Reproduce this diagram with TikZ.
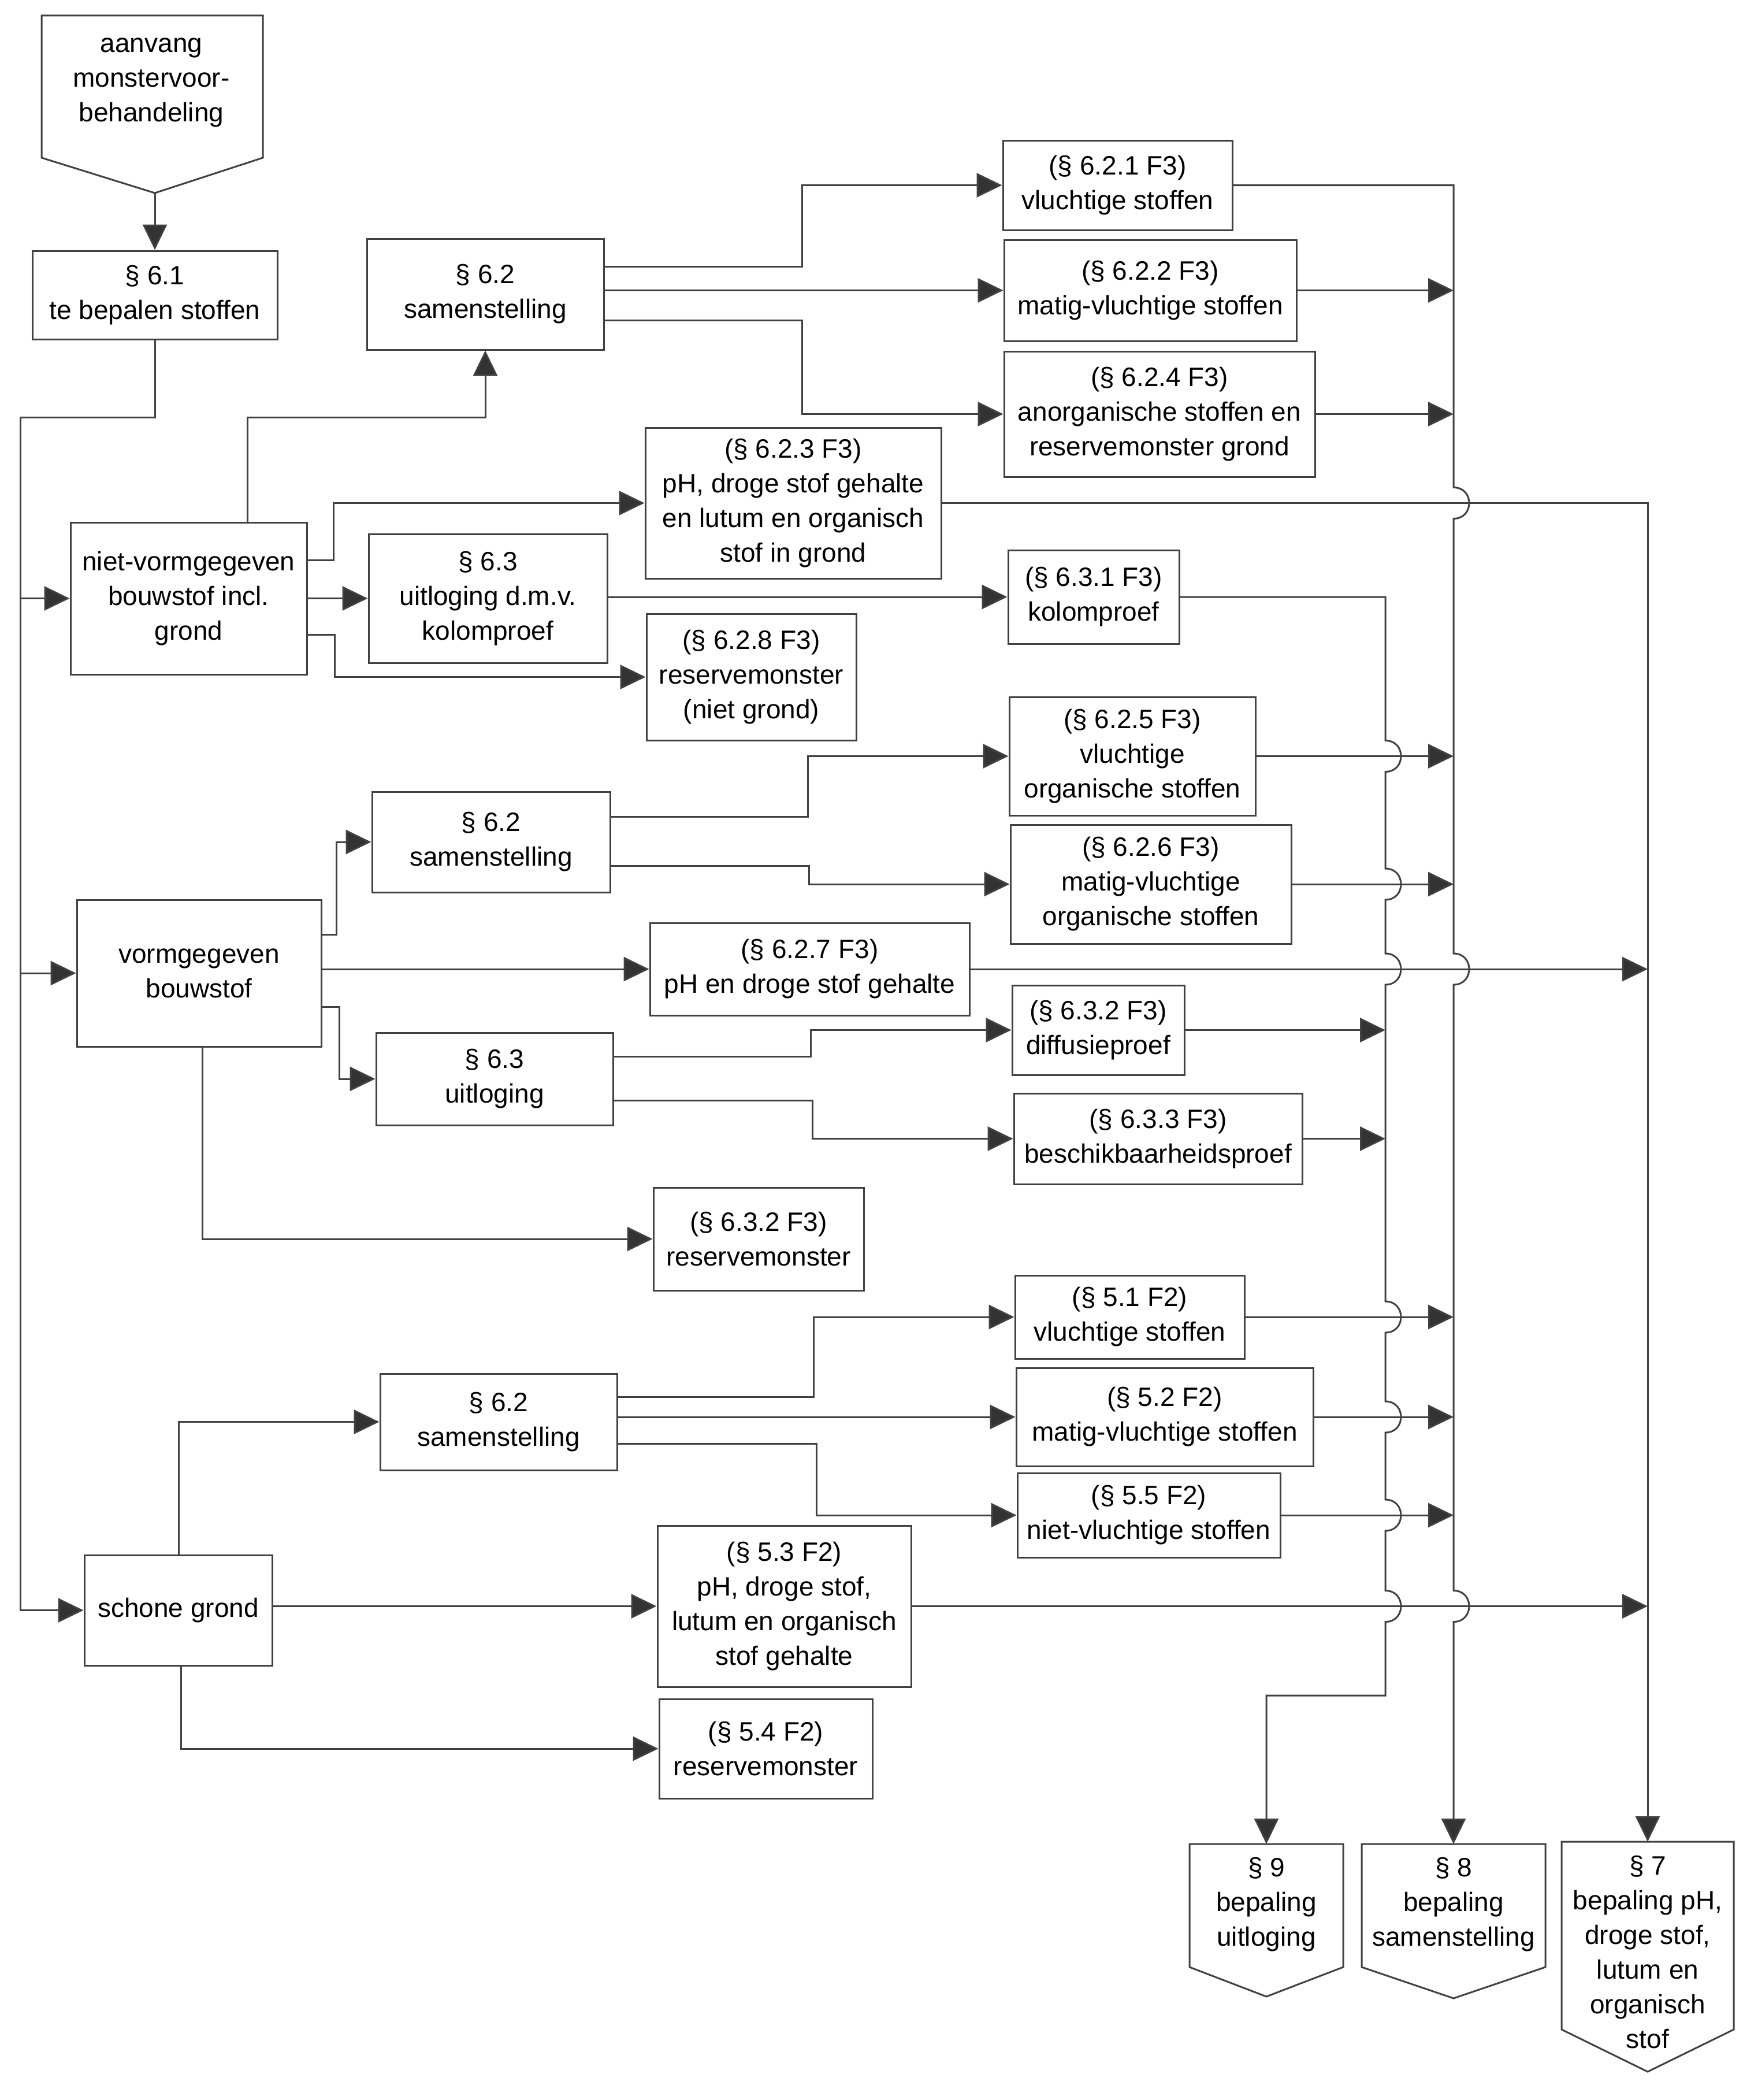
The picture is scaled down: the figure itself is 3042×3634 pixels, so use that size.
\documentclass[tikz,border=0pt]{standalone}
\usepackage{fontspec}
\setmainfont{Liberation Sans}
\usetikzlibrary{arrows.meta}
\begin{document}
\begin{tikzpicture}[x=1pt,y=-1pt,
  box/.style={draw=black!75, line width=3pt, align=center, inner sep=0pt, font=\fontsize{46}{60}\selectfont},
  txt/.style={align=center, inner sep=0pt, font=\fontsize{46}{60}\selectfont},
  ln/.style={draw=black!75, line width=3pt, line join=miter},
  arr/.style={ln, -{Triangle[length=44pt,width=42pt,fill=black!80]}},
]
\fill[white] (0,0) rectangle (3042,3634);
\useasboundingbox (0,0) rectangle (3042,3634);

% ---------- pentagon (off-page) shapes ----------
\draw[ln] (72,27) -- (455,27) -- (455,273) -- (268,334) -- (72,273) -- cycle;
\node[txt] (aanvang) at (262,143) {aanvang\\monstervoor-\\behandeling};
\coordinate (aanvangtip) at (268,334);

\draw[ln] (2059,3191) -- (2325,3191) -- (2325,3404) -- (2192,3455) -- (2059,3404) -- cycle;
\node[txt] (p9) at (2192,3296) {§ 9\\bepaling\\uitloging};
\coordinate (p9top) at (2192,3191);

\draw[ln] (2357,3191) -- (2675,3191) -- (2675,3404) -- (2516,3458) -- (2357,3404) -- cycle;
\node[txt] (p8) at (2516,3296) {§ 8\\bepaling\\samenstelling};
\coordinate (p8top) at (2516,3191);

\draw[ln] (2703,3187) -- (3001,3187) -- (3001,3512) -- (2852,3585) -- (2703,3512) -- cycle;
\node[txt] (p7) at (2852,3378) {§ 7\\bepaling pH,\\droge stof,\\lutum en\\organisch\\stof};
\coordinate (p7top) at (2852,3187);

% ---------- boxes ----------
\node[box, minimum width=424, minimum height=153] (n61) at (268,510.5) {§ 6.1\\te bepalen stoffen};
\node[box, minimum width=410, minimum height=192] (s62a) at (840,509) {§ 6.2\\samenstelling};
\node[box, minimum width=397, minimum height=155] (v621) at (1934.5,320.5) {(§ 6.2.1 F3)\\vluchtige stoffen};
\node[box, minimum width=506, minimum height=175] (v622) at (1991,502.5) {(§ 6.2.2 F3)\\matig-vluchtige stoffen};
\node[box, minimum width=538, minimum height=217] (v624) at (2007,716.5) {(§ 6.2.4 F3)\\anorganische stoffen en\\reservemonster grond};
\node[box, minimum width=512, minimum height=261] (v623) at (1373,870.5) {(§ 6.2.3 F3)\\pH, droge stof gehalte\\en lutum en organisch\\stof in grond};
\node[box, minimum width=409, minimum height=263] (nv) at (326.5,1035.5) {niet-vormgegeven\\bouwstof incl.\\grond};
\node[box, minimum width=413, minimum height=223] (s63a) at (844.5,1035.5) {§ 6.3\\uitloging d.m.v.\\kolomproef};
\node[box, minimum width=296, minimum height=162] (v631) at (1893,1033) {(§ 6.3.1 F3)\\kolomproef};
\node[box, minimum width=363, minimum height=219] (v628) at (1300.5,1171.5) {(§ 6.2.8 F3)\\reservemonster\\(niet grond)};
\node[box, minimum width=426, minimum height=205] (v625) at (1960,1308.5) {(§ 6.2.5 F3)\\vluchtige\\organische stoffen};
\node[box, minimum width=412, minimum height=174] (s62b) at (850,1457) {§ 6.2\\samenstelling};
\node[box, minimum width=486, minimum height=206] (v626) at (1992,1530) {(§ 6.2.6 F3)\\matig-vluchtige\\organische stoffen};
\node[box, minimum width=423, minimum height=254] (vg) at (344.5,1684) {vormgegeven\\bouwstof};
\node[box, minimum width=553, minimum height=160] (v627) at (1401.5,1677) {(§ 6.2.7 F3)\\pH en droge stof gehalte};
\node[box, minimum width=298, minimum height=155] (v632d) at (1901,1782.5) {(§ 6.3.2 F3)\\diffusieproef};
\node[box, minimum width=410, minimum height=160] (s63b) at (856,1867) {§ 6.3\\uitloging};
\node[box, minimum width=499, minimum height=157] (v633) at (2004.5,1970.5) {(§ 6.3.3 F3)\\beschikbaarheidsproef};
\node[box, minimum width=364, minimum height=178] (v632r) at (1313,2144) {(§ 6.3.2 F3)\\reservemonster};
\node[box, minimum width=397, minimum height=144] (v51) at (1955.5,2279) {(§ 5.1 F2)\\vluchtige stoffen};
\node[box, minimum width=410, minimum height=167] (s62c) at (863,2460.5) {§ 6.2\\samenstelling};
\node[box, minimum width=514, minimum height=170] (v52) at (2016,2452) {(§ 5.2 F2)\\matig-vluchtige stoffen};
\node[box, minimum width=455, minimum height=146] (v55) at (1988.5,2622) {(§ 5.5 F2)\\niet-vluchtige stoffen};
\node[box, minimum width=325, minimum height=191] (sg) at (308.5,2786.5) {schone grond};
\node[box, minimum width=439, minimum height=279] (v53) at (1357.5,2779.5) {(§ 5.3 F2)\\pH, droge stof,\\lutum en organisch\\stof gehalte};
\node[box, minimum width=369, minimum height=172] (v54) at (1325.5,3026) {(§ 5.4 F2)\\reservemonster};

% ---------- connectors ----------
\draw[arr] (aanvangtip) -- (n61.north);
\draw[arr] (n61.south) |- (35,722) |- (sg.west);
\draw[arr] (35,0 |- nv.west) -- (nv.west);
\draw[arr] (35,0 |- vg.west) -- (vg.west);

\draw[arr] (428,0 |- nv.north) |- (s62a.south |- 0,722) -- (s62a.south);
\draw[arr] (nv.east |- 0,969) -| (577,0 |- v623.west) -- (v623.west);
\draw[arr] (nv.east) -- (s63a.west);
\draw[arr] (nv.east |- 0,1098) -| (579,0 |- v628.west) -- (v628.west);

\draw[arr] (s62a.east |- 0,461) -| (1388,0 |- v621.west) -- (v621.west);
\draw[arr] (s62a.east |- v622.west) -- (v622.west);
\draw[arr] (s62a.east |- 0,554) -| (1388,0 |- v624.west) -- (v624.west);

\draw[arr] (s63a.east |- v631.west) -- (v631.west);

\draw[arr] (vg.east |- 0,1617) -| (582,0 |- s62b.west) -- (s62b.west);
\draw[arr] (vg.east |- v627.west) -- (v627.west);
\draw[arr] (vg.east |- 0,1742) -| (587,0 |- s63b.west) -- (s63b.west);
\draw[arr] (350,0 |- vg.south) |- (v632r.west);

\draw[arr] (s62b.east |- 0,1413) -| (1398,0 |- v625.west) -- (v625.west);
\draw[arr] (s62b.east |- 0,1498) -| (1400,0 |- v626.west) -- (v626.west);

\draw[arr] (s63b.east |- 0,1828) -| (1403,0 |- v632d.west) -- (v632d.west);
\draw[arr] (s63b.east |- 0,1904) -| (1406,0 |- v633.west) -- (v633.west);

\draw[arr] (309,0 |- sg.north) |- (s62c.west);
\draw[arr] (sg.east |- v53.west) -- (v53.west);
\draw[arr] (313,0 |- sg.south) |- (v54.west);

\draw[arr] (s62c.east |- 0,2417) -| (1408,0 |- v51.west) -- (v51.west);
\draw[arr] (s62c.east |- v52.west) -- (v52.west);
\draw[arr] (s62c.east |- 0,2498) -| (1413,0 |- v55.west) -- (v55.west);

% ---------- collectors ----------
\coordinate (c9) at (2398,0);
\coordinate (c8) at (2516,0);
\coordinate (c7) at (2852,0);

% section 8 collector
\draw[arr] (v621.east) -- (c8 |- v621.east)
  -- (2516,843.5) .. controls (2552,843.5) and (2552,897.5) .. (2516,897.5)
  -- (2516,1650) .. controls (2552,1650) and (2552,1704) .. (2516,1704)
  -- (2516,2752.5) .. controls (2552,2752.5) and (2552,2806.5) .. (2516,2806.5)
  -- (p8top);
% section 9 collector
\draw[arr] (v631.east) -- (c9 |- v631.east)
  -- (2398,1281.5) .. controls (2434,1281.5) and (2434,1335.5) .. (2398,1335.5)
  -- (2398,1503) .. controls (2434,1503) and (2434,1557) .. (2398,1557)
  -- (2398,1650) .. controls (2434,1650) and (2434,1704) .. (2398,1704)
  -- (2398,2252) .. controls (2434,2252) and (2434,2306) .. (2398,2306)
  -- (2398,2425) .. controls (2434,2425) and (2434,2479) .. (2398,2479)
  -- (2398,2595) .. controls (2434,2595) and (2434,2649) .. (2398,2649)
  -- (2398,2752.5) .. controls (2434,2752.5) and (2434,2806.5) .. (2398,2806.5)
  -- (2398,2934) -| (p9top);
% section 7 collector
\draw[arr] (v623.east) -- (c7 |- v623.east) -- (p7top);

% feeders into collectors
\draw[arr] (v622.east) -- (c8 |- v622.east);
\draw[arr] (v624.east) -- (c8 |- v624.east);
\draw[arr] (v625.east) -- (c8 |- v625.east);
\draw[arr] (v626.east) -- (c8 |- v626.east);
\draw[arr] (v51.east) -- (c8 |- v51.east);
\draw[arr] (v52.east) -- (c8 |- v52.east);
\draw[arr] (v55.east) -- (c8 |- v55.east);
\draw[arr] (v632d.east) -- (c9 |- v632d.east);
\draw[arr] (v633.east) -- (c9 |- v633.east);
\draw[arr] (v627.east) -- (c7 |- v627.east);
\draw[arr] (v53.east) -- (c7 |- v53.east);
\end{tikzpicture}
\end{document}
